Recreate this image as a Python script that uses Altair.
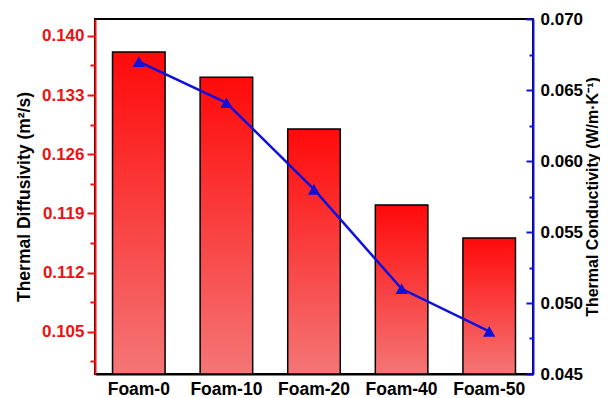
import altair as alt
import pandas as pd

samples = ["Foam-0", "Foam-10", "Foam-20", "Foam-40", "Foam-50"]
diffusivity = [0.1381, 0.1351, 0.1290, 0.1200, 0.1161]
conductivity = [0.0670, 0.0641, 0.0580, 0.0510, 0.0480]

left_domain = [0.100, 0.142]
right_domain = [0.045, 0.070]
left_major = [0.105, 0.112, 0.119, 0.126, 0.133, 0.140]
left_minor = [0.1015, 0.1085, 0.1155, 0.1225, 0.1295, 0.1365]
right_major = [0.045, 0.050, 0.055, 0.060, 0.065, 0.070]
right_minor = [0.0475, 0.0525, 0.0575, 0.0625, 0.0675]

df = pd.DataFrame({"sample": samples, "diff": diffusivity, "cond": conductivity})

FONT = "Liberation Sans"
RED = "#ee1111"
BLUE = "#1010dd"

xenc = alt.X(
    "sample:N",
    sort=samples,
    scale=alt.Scale(paddingInner=0.4, paddingOuter=0.2),
    axis=alt.Axis(
        title=None, ticks=False, labelAngle=0, labelFontSize=17.5, labelFontWeight="bold",
        labelColor="black", labelFont=FONT, domainColor="black", domainWidth=2, labelPadding=6,
    ),
)

lscale = alt.Scale(domain=left_domain, nice=False, zero=False)
rscale = alt.Scale(domain=right_domain, nice=False, zero=False)

grad = alt.Gradient(
    gradient="linear",
    stops=[alt.GradientStop(color="#ff0a0a", offset=0), alt.GradientStop(color="#f47676", offset=1)],
    x1=0, x2=0, y1=0, y2=1,
)

bars = alt.Chart(df).mark_bar(color=grad, stroke="black", strokeWidth=1.5).encode(
    x=xenc,
    y=alt.Y(
        "diff:Q", scale=lscale,
        axis=alt.Axis(
            orient="left", values=left_major, format=".3f", title="Thermal Diffusivity (m²/s)",
            labelColor=RED, labelFontSize=17, labelFontWeight="bold", labelFont=FONT,
            titleFontSize=17.5, titleFontWeight="bold", titleFont=FONT, titleColor="black",
            tickColor=RED, tickSize=8, tickWidth=2, domainColor=RED, domainWidth=2,
            grid=False, labelPadding=3, titlePadding=8,
        ),
    ),
    y2=alt.datum(left_domain[0]),
)

bars_minor = alt.Chart(df).mark_bar(opacity=0).encode(
    x=xenc,
    y=alt.Y(
        "diff:Q", scale=lscale,
        axis=alt.Axis(
            orient="left", values=left_minor, labels=False, domain=False, title=None,
            tickColor=RED, tickSize=5, tickWidth=2, grid=False,
        ),
    ),
    y2=alt.datum(left_domain[0]),
)

line = alt.Chart(df).mark_line(color=BLUE, strokeWidth=2.5).encode(
    x=xenc,
    y=alt.Y(
        "cond:Q", scale=rscale,
        axis=alt.Axis(
            orient="right", values=right_major, format=".3f",
            title="Thermal Conductivity (W/m·K⁻¹)",
            labelColor="black", labelFontSize=17, labelFontWeight="bold", labelFont=FONT,
            titleFontSize=16, titleFontWeight="bold", titleFont=FONT, titleColor="black",
            titleAngle=270, titleBaseline="top",
            tickSize=0, domainColor=BLUE, domainWidth=2, grid=False,
            labelPadding=7, titlePadding=2,
        ),
    ),
)

pts_major = alt.Chart(df).mark_point(
    shape="triangle-up", filled=True, color=BLUE, size=150, opacity=1
).encode(
    x=xenc,
    y=alt.Y(
        "cond:Q", scale=rscale,
        axis=alt.Axis(
            orient="right", values=right_major, labels=False, domain=False, title=None,
            tickColor=BLUE, tickSize=7, tickWidth=2, offset=-7, grid=False,
        ),
    ),
)

pts_minor = alt.Chart(df).mark_point(opacity=0).encode(
    x=xenc,
    y=alt.Y(
        "cond:Q", scale=rscale,
        axis=alt.Axis(
            orient="right", values=right_minor, labels=False, domain=False, title=None,
            tickColor=BLUE, tickSize=4, tickWidth=2, offset=-4, grid=False,
        ),
    ),
)

chart = (
    alt.layer(bars, bars_minor, line, pts_major, pts_minor)
    .resolve_scale(y="independent")
    .properties(
        width=438, height=355,
        autosize=alt.AutoSizeParams(type="none"),
        padding={"left": 87, "top": 11, "right": 67, "bottom": 24},
    )
    .configure_view(stroke="black", strokeWidth=2)
)

chart.save("out.html", embed_options={"renderer": "svg", "actions": False})
